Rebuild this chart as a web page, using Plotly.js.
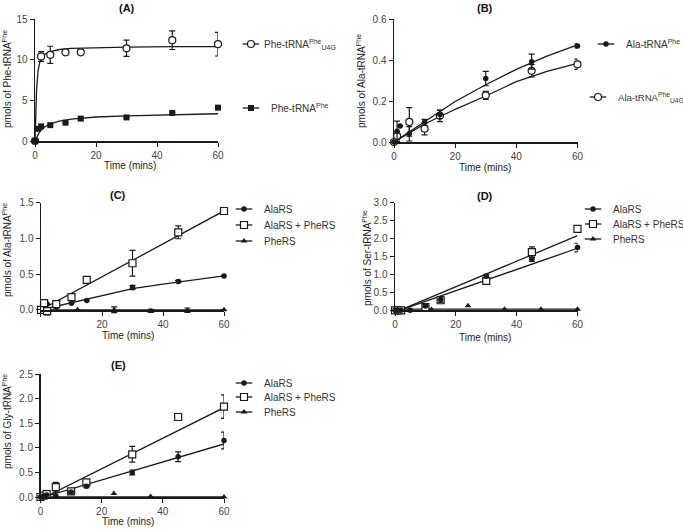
<!DOCTYPE html>
<html><head><meta charset="utf-8">
<script src="https://cdn.plot.ly/plotly-3.0.1.min.js"></script>
<style>
html,body{margin:0;padding:0;background:#fff;}
#chart{width:683px;height:530px;}
</style></head><body><div id="chart"></div>
<script>
// ---------- Panel A : pmols of Phe-tRNAPhe ----------
const timeA_U4G = [0, 2, 5, 10, 15, 30, 45, 60];
const pheU4G = [0, 10.4, 10.6, 10.9, 10.9, 11.4, 12.4, 11.9];
const pheU4GErr = [0, 0.6, 1.05, 0.15, 0.25, 1.0, 1.15, 1.45];
const timeA_WT = [0, 1, 2, 5, 10, 15, 30, 45, 60];
const pheWT = [0, 1.5, 1.8, 1.95, 2.25, 2.75, 2.9, 3.45, 4.1];
const pheWTErr = [0, 0, 0, 0, 0, 0.2, 0, 0, 0];
const fitTimeA = [0, 0.25, 0.5, 1, 1.5, 2, 3, 5, 8, 12, 20, 30, 45, 60];
const fitPheU4G = [0, 3.5, 6.2, 8.6, 9.6, 10.1, 10.6, 11.0, 11.25, 11.4, 11.5, 11.55, 11.6, 11.6];
const fitPheWT = [0, 0.2, 0.4, 0.8, 1.1, 1.35, 1.7, 2.1, 2.45, 2.7, 2.95, 3.1, 3.25, 3.35];

// ---------- Panel B : pmols of Ala-tRNAPhe ----------
const timeB_WT = [0, 1, 2, 5, 10, 15, 30, 45, 60];
const alaWT = [0, 0.052, 0.078, 0.04, 0.096, 0.135, 0.31, 0.393, 0.47];
const alaWTErr = [0, 0.05, 0, 0.035, 0.015, 0.02, 0.035, 0.037, 0.01];
const timeB_U4G = [0, 1, 5, 10, 15, 30, 45, 60];
const alaU4G = [0, 0.03, 0.098, 0.065, 0.128, 0.228, 0.348, 0.38];
const alaU4GErr = [0, 0.02, 0.07, 0.03, 0.028, 0.02, 0.03, 0.025];
const fitTimeB = [0, 10, 20, 30, 40, 50, 60];
const fitAlaWT = [0, 0.1, 0.198, 0.28, 0.355, 0.42, 0.475];
const fitAlaU4G = [0, 0.088, 0.16, 0.225, 0.295, 0.345, 0.385];

// ---------- Panel C : pmols of Ala-tRNAPhe by enzyme ----------
const timeC = [0, 1, 2, 5, 10, 15, 30, 45, 60];
const cAlaRS = [0, 0.047, 0.08, 0.037, 0.093, 0.13, 0.312, 0.396, 0.475];
const cAlaRSErr = [0, 0, 0, 0, 0, 0, 0.03, 0.015, 0];
const cBoth = [0, 0.093, -0.02, 0.08, 0.177, 0.42, 0.652, 1.085, 1.384];
const cBothErr = [0, 0.03, 0.05, 0, 0, 0, 0.18, 0.09, 0];
const timeC_Phe = [0, 12, 24, 36, 48, 60];
const cPheRS = [0, 0, 0, -0.015, -0.005, 0];
const cPheRSErr = [0, 0, 0.04, 0.02, 0.03, 0];
const fitTimeC = [0, 10, 20, 30, 40, 50, 60];
const fitCAlaRS = [0, 0.1, 0.2, 0.295, 0.36, 0.42, 0.475];
const fitTimeCLin = [0, 60];
const fitCBoth = [0, 1.385];
const fitCPheRS = [0, 0];

// ---------- Panel D : pmols of Ser-tRNAPhe ----------
const timeD = [0, 1, 2, 5, 10, 15, 30, 45, 60];
const dAlaRS = [0, 0, 0, 0, 0.12, 0.3, 0.95, 1.42, 1.75];
const dAlaRSErr = [0, 0, 0, 0, 0.03, 0.08, 0.05, 0.06, 0.12];
const dBoth = [0, 0, 0, -0.06, 0.09, 0.28, 0.82, 1.62, 2.27];
const dBothErr = [0, 0, 0, 0, 0, 0.06, 0.04, 0.15, 0];
const timeD_Phe = [0, 12, 24, 36, 48, 60];
const dPheRS = [0, 0.02, 0.13, 0.03, 0.03, 0.03];
const fitTimeDLin = [1.5, 60];
const fitDAlaRS = [0, 1.73];
const fitDBoth = [0, 2.08];
const fitTimeDPhe = [0, 60];
const fitDPheRS = [0.03, 0.03];

// ---------- Panel E : pmols of Gly-tRNAPhe ----------
const timeE = [0, 1, 2, 5, 10, 15, 30, 45, 60];
const eAlaRS = [0, 0.02, 0.04, 0.02, 0.1, 0.22, 0.5, 0.82, 1.15];
const eAlaRSErr = [0, 0, 0, 0, 0.02, 0.03, 0.05, 0.1, 0.17];
const eBoth = [0, 0.03, 0.06, 0.2, 0.115, 0.3, 0.87, 1.63, 1.84];
const eBothErr = [0, 0, 0, 0.1, 0, 0.03, 0.16, 0.06, 0.24];
const timeE_Phe = [0, 5, 24, 36, 60];
const ePheRS = [0, 0.01, 0.07, 0.01, 0];
const fitTimeEBoth = [1.5, 60];
const fitEBoth = [0, 1.82];
const fitTimeEAla = [1, 60];
const fitEAlaRS = [0, 1.08];
const fitTimeEPhe = [0, 60];
const fitEPheRS = [0, 0];

// ---------- labels ----------
const panelTitles = ['(A)', '(B)', '(C)', '(D)', '(E)'];
const yTitles = ['pmols of Phe-tRNA<sup>Phe</sup>', 'pmols of Ala-tRNA<sup>Phe</sup>',
  'pmols of Ala-tRNA<sup>Phe</sup>', 'pmols of Ser-tRNA<sup>Phe</sup>', 'pmols of Gly-tRNA<sup>Phe</sup>'];
const xTitle = 'Time (mins)';
const xTickVals = [0, 20, 40, 60];

const FONT = 'Liberation Sans, Arial, sans-serif';
const INK = '#1a1a1a';

const SYM = {
  openCircle: {symbol: 'circle', size: 7, color: '#ffffff', line: {color: INK, width: 1.2}},
  fillSquare: {symbol: 'square', size: 6, color: INK, line: {color: INK, width: 0}},
  fillCircle: {symbol: 'circle', size: 5.5, color: INK, line: {color: INK, width: 0}},
  openSquare: {symbol: 'square', size: 7, color: '#ffffff', line: {color: INK, width: 1.2}},
  triangle: {symbol: 'triangle-up', size: 6, color: INK, line: {color: INK, width: 0}}
};

const traces = [];
function pts(ax, x, y, err, sym) {
  const t = {x: x, y: y, mode: 'markers', type: 'scatter', showlegend: false,
    xaxis: 'x' + ax, yaxis: 'y' + ax, cliponaxis: false, marker: SYM[sym], hoverinfo: 'x+y'};
  if (err) t.error_y = {type: 'data', array: err, visible: true, color: INK, thickness: 1.2, width: 3};
  traces.push(t);
}
function fit(ax, x, y) {
  traces.push({x: x, y: y, mode: 'lines', type: 'scatter', showlegend: false,
    xaxis: 'x' + ax, yaxis: 'y' + ax, cliponaxis: false, line: {color: INK, width: 1.3}, hoverinfo: 'skip'});
}
function leg(ax, x, y, sym, name, legendId) {
  traces.push({x: x, y: y, mode: 'lines+markers', type: 'scatter', visible: 'legendonly',
    xaxis: 'x' + ax, yaxis: 'y' + ax, name: name, legend: legendId,
    marker: SYM[sym], line: {color: INK, width: 1.3}});
}

// A
fit('', fitTimeA, fitPheU4G); fit('', fitTimeA, fitPheWT);
pts('', timeA_U4G, pheU4G, pheU4GErr, 'openCircle');
pts('', timeA_WT, pheWT, pheWTErr, 'fillSquare');
leg('', timeA_U4G, pheU4G, 'openCircle', 'Phe-tRNA<sup>Phe</sup><sub>U4G</sub>', 'legend');
leg('', timeA_WT, pheWT, 'fillSquare', 'Phe-tRNA<sup>Phe</sup>', 'legend2');
// B
fit('2', fitTimeB, fitAlaWT); fit('2', fitTimeB, fitAlaU4G);
pts('2', timeB_U4G, alaU4G, alaU4GErr, 'openCircle');
pts('2', timeB_WT, alaWT, alaWTErr, 'fillCircle');
leg('2', timeB_WT, alaWT, 'fillCircle', 'Ala-tRNA<sup>Phe</sup>', 'legend3');
leg('2', timeB_U4G, alaU4G, 'openCircle', 'Ala-tRNA<sup>Phe</sup><sub>U4G</sub>', 'legend4');
// C
fit('3', fitTimeCLin, fitCBoth); fit('3', fitTimeC, fitCAlaRS); fit('3', fitTimeCLin, fitCPheRS);
pts('3', timeC_Phe, cPheRS, cPheRSErr, 'triangle');
pts('3', timeC, cAlaRS, cAlaRSErr, 'fillCircle');
pts('3', timeC, cBoth, cBothErr, 'openSquare');
leg('3', timeC, cAlaRS, 'fillCircle', 'AlaRS', 'legend5');
leg('3', timeC, cBoth, 'openSquare', 'AlaRS + PheRS', 'legend6');
leg('3', timeC_Phe, cPheRS, 'triangle', 'PheRS', 'legend7');
// D
fit('4', fitTimeDLin, fitDBoth); fit('4', fitTimeDLin, fitDAlaRS); fit('4', fitTimeDPhe, fitDPheRS);
pts('4', timeD_Phe, dPheRS, null, 'triangle');
pts('4', timeD, dBoth, dBothErr, 'openSquare');
pts('4', timeD, dAlaRS, dAlaRSErr, 'fillCircle');
leg('4', timeD, dAlaRS, 'fillCircle', 'AlaRS', 'legend8');
leg('4', timeD, dBoth, 'openSquare', 'AlaRS + PheRS', 'legend9');
leg('4', timeD_Phe, dPheRS, 'triangle', 'PheRS', 'legend10');
// E
fit('5', fitTimeEBoth, fitEBoth); fit('5', fitTimeEAla, fitEAlaRS); fit('5', fitTimeEPhe, fitEPheRS);
pts('5', timeE_Phe, ePheRS, null, 'triangle');
pts('5', timeE, eBoth, eBothErr, 'openSquare');
pts('5', timeE, eAlaRS, eAlaRSErr, 'fillCircle');
leg('5', timeE, eAlaRS, 'fillCircle', 'AlaRS', 'legend11');
leg('5', timeE, eBoth, 'openSquare', 'AlaRS + PheRS', 'legend12');
leg('5', timeE_Phe, ePheRS, 'triangle', 'PheRS', 'legend13');

const W = 683, H = 530;
const px = v => v / W, py = v => 1 - v / H;

function xax(d, anchor, vals) {
  return {domain: [px(d[0]), px(d[1])], range: [0, 60], anchor: anchor, showline: true, linecolor: INK,
    linewidth: 1.5, ticks: 'outside', ticklen: 4, tickwidth: 1, tickcolor: INK, showgrid: false,
    zeroline: false, tickvals: vals || xTickVals, tickfont: {family: FONT, size: 10, color: '#444'},
    fixedrange: true};
}
function yax(d, anchor, range, dtick) {
  return {domain: [py(d[1]), py(d[0])], range: range, anchor: anchor, showline: true, linecolor: INK,
    linewidth: 1.5, ticks: 'outside', ticklen: 4, tickwidth: 1, tickcolor: INK, showgrid: false,
    zeroline: false, tick0: 0, dtick: dtick, tickformat: dtick < 1 ? '.1f' : 'd',
    tickfont: {family: FONT, size: 10, color: '#444'}, fixedrange: true};
}

const xaxisC = xax([41, 224], 'free', [20, 40, 60]);
xaxisC.position = py(310);

const layout = {
  width: W, height: H, margin: {l: 0, r: 0, t: 0, b: 0, autoexpand: false},
  paper_bgcolor: '#fff', plot_bgcolor: 'rgba(0,0,0,0)', font: {family: FONT, color: '#333'},
  xaxis: xax([35, 218], 'y'), yaxis: yax([19, 141], 'x', [0, 15], 5),
  xaxis2: xax([394, 577.5], 'y2'), yaxis2: yax([19.3, 142], 'x2', [0, 0.6], 0.2),
  xaxis3: xaxisC, yaxis3: yax([202.7, 316.5], 'x3', [-0.094, 1.5], 0.5),
  xaxis4: xax([395, 577.5], 'y4'), yaxis4: yax([202.7, 310.3], 'x4', [0, 3], 0.5),
  xaxis5: xax([40.5, 224], 'y5'), yaxis5: yax([374.3, 497], 'x5', [0, 2.5], 0.5),
  annotations: [], showlegend: true
};

// legend rows: [legend id, x of text start, y of row centre, font size] in page pixels
const legendSpots = [
  ['legend', 264, 44, 10], ['legend2', 264, 108, 10],
  ['legend3', 619, 44, 10], ['legend4', 611, 97, 9.6],
  ['legend5', 257, 209, 10], ['legend6', 257, 225, 10], ['legend7', 257, 241, 10],
  ['legend8', 606, 209, 10], ['legend9', 606, 224, 10], ['legend10', 606, 239, 10],
  ['legend11', 257, 383, 10], ['legend12', 257, 397, 10], ['legend13', 257, 412, 10]
];
const TEXT_X = 33;   // text offset inside a legend item (symbol centre at 20)
legendSpots.forEach(([id, tx, ry, fs]) => {
  layout[id] = {x: px(tx - TEXT_X), xanchor: 'left', y: py(ry - 14.5), yanchor: 'top',
    bgcolor: 'rgba(0,0,0,0)', borderwidth: 0, font: {family: FONT, size: fs, color: '#333'},
    itemclick: false, itemdoubleclick: false};
});

function ann(text, x, y, opts) {
  layout.annotations.push(Object.assign({text: text, xref: 'paper', yref: 'paper', x: px(x), y: py(y),
    xanchor: 'center', yanchor: 'middle', showarrow: false,
    font: {family: FONT, size: 10, color: '#222'}}, opts || {}));
}
const titlePos = [[127, 8], [485, 8], [118, 195], [485, 196], [118, 365]];
titlePos.forEach((p, i) => ann('<b>' + panelTitles[i] + '</b>', p[0], p[1], {font: {family: FONT, size: 11, color: '#111'}}));
const xTitlePos = [[130, 165], [485, 167], [128, 335], [485, 337], [128, 521]];
xTitlePos.forEach(p => ann(xTitle, p[0], p[1]));
const yTitlePos = [[7, 79], [361, 81], [7, 250], [367, 258], [7, 422]];
yTitlePos.forEach((p, i) => ann(yTitles[i], p[0], p[1], {textangle: -90}));

Plotly.newPlot('chart', traces, layout, {staticPlot: true, displayModeBar: false}).then(gd => {
  gd.querySelectorAll('g.infolayer [clip-path]').forEach(el => el.removeAttribute('clip-path'));
  gd.querySelectorAll('g.infolayer g.traces').forEach(g => { g.style.opacity = 1; });
  gd.querySelectorAll('g.infolayer g.legendlines').forEach(g =>
    g.setAttribute('transform', 'translate(20,0) scale(0.55,1) translate(-20,0)'));
  gd.querySelectorAll('g.infolayer text.legendtext').forEach(t => t.setAttribute('x', TEXT_X));
});
</script></body></html>
